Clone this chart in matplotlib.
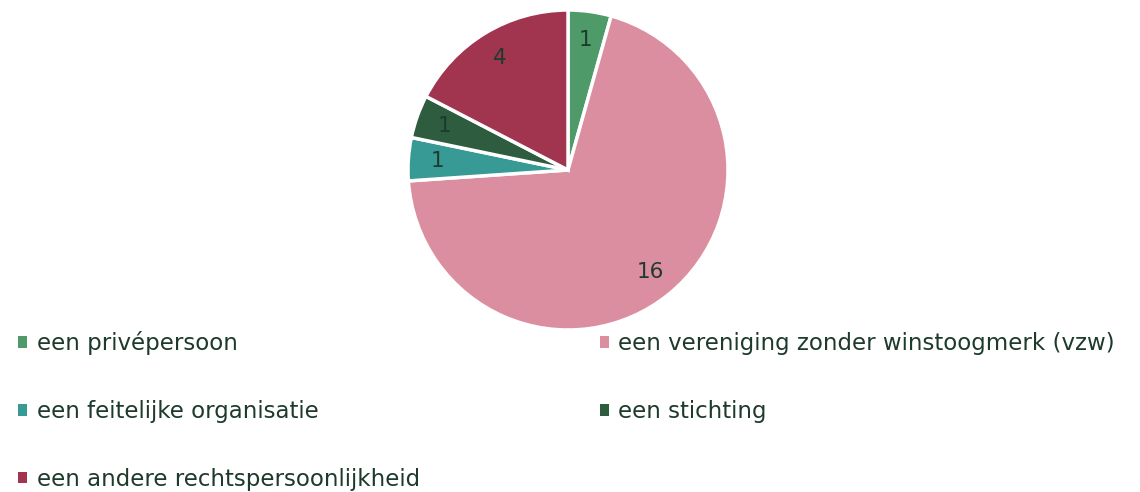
import matplotlib.pyplot as plt
import matplotlib.patches as mpatches

categories = ['een privépersoon', 'een vereniging zonder winstoogmerk (vzw)',
              'een feitelijke organisatie', 'een stichting',
              'een andere rechtspersoonlijkheid']
counts = [1, 16, 1, 1, 4]
# pie runs clockwise from the top: privé, vzw, feitelijke, stichting, andere
colors = ['#4E9A69', '#DB8EA0', '#379A95', '#2E5C3E', '#A1344E']
text_color = '#1E3A2C'

fig = plt.figure(figsize=(11.4, 4.92), dpi=100)
ax = fig.add_axes([408 / 1140, 162 / 492, 320 / 1140, 320 / 492])

wedges, texts, autotexts = ax.pie(
    counts, colors=colors, startangle=90, counterclock=False,
    autopct=lambda p: '%d' % round(p * sum(counts) / 100),
    pctdistance=0.82, radius=1,
    wedgeprops=dict(edgecolor='white', linewidth=2.5),
    textprops=dict(color=text_color, fontsize=15.5))
ax.set_xlim(-1, 1)
ax.set_ylim(-1, 1)
ax.set_aspect('equal')

# legend squares without the white wedge edge
order = [0, 2, 4, 1, 3]
handles = [mpatches.Patch(facecolor=wedges[i].get_facecolor(), edgecolor='none')
           for i in order]
leg = fig.legend(handles, [categories[i] for i in order],
                 ncol=2, loc='upper left', bbox_to_anchor=(0.006, 0.35),
                 frameon=False, fontsize=16.5, handlelength=0.4, handleheight=0.4,
                 handletextpad=0.4, labelspacing=1.95, columnspacing=7.85,
                 borderpad=0)
for t in leg.get_texts():
    t.set_color(text_color)

fig.savefig('out.png', dpi=100)
